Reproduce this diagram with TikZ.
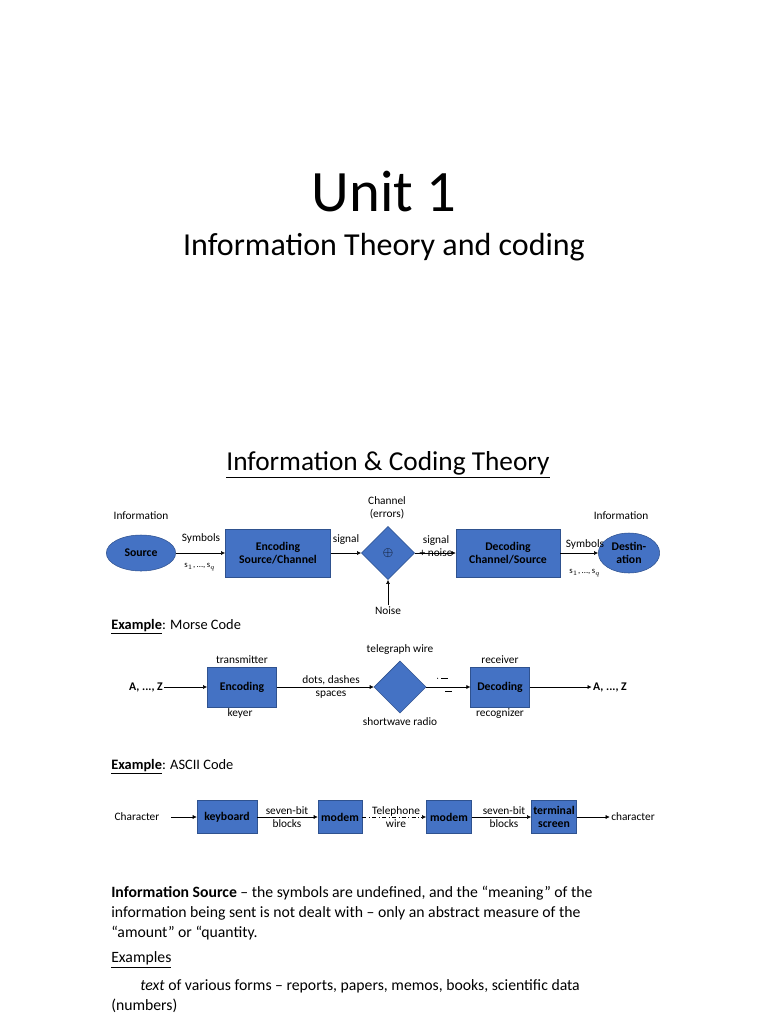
\documentclass[tikz,border=0pt]{standalone}
\usepackage{fontspec}
\setmainfont{Carlito}
\usepackage{xcolor}
\usetikzlibrary{arrows.meta,positioning,shapes.geometric}
\definecolor{boxblue}{HTML}{4472C4}
\definecolor{boxline}{HTML}{2F528F}

\begin{document}
\begin{tikzpicture}[
    x=0.75pt, y=-0.75pt,
    box/.style={draw=boxline, fill=boxblue, align=center, font=\fontsize{8.8}{10}\selectfont\bfseries, inner sep=1pt},
    blob/.style={ellipse, draw=boxline, fill=boxblue, align=center, font=\fontsize{8.8}{10}\selectfont\bfseries, inner sep=0pt},
    chan/.style={diamond, draw=boxline, fill=boxblue, minimum width=40pt, minimum height=40pt, inner sep=0pt},
    lbl/.style={font=\fontsize{8.5}{9.5}\selectfont, align=center, inner sep=1pt},
    arrow/.style={-{Latex[length=3pt,width=3pt]}, thin},
    body/.style={font=\fontsize{11.8}{14}\selectfont, anchor=west, inner sep=0pt}
  ]
  \useasboundingbox (0,0) rectangle (768,1024);

  % Titles
  \node[font=\fontsize{44}{50}\selectfont] (unit) at (384,192) {Unit 1};
  \node[font=\fontsize{24}{28}\selectfont] (subtitle) at (384,247) {Information Theory and coding};
  \node[font=\fontsize{20.5}{24}\selectfont] (heading) at (388,465) {\underline{Information \& Coding Theory}};

  % Information and coding chain
  \node[blob, minimum width=52pt, minimum height=27pt] (source) at (141,553) {Source};
  \node[box, minimum width=79pt, minimum height=36pt] (enc) at (278,553) {Encoding\\Source/Channel};
  \node[chan] (channel) at (388,553) {$\oplus$};
  \node[box, minimum width=78pt, minimum height=36pt] (dec) at (508,553) {Decoding\\Channel/Source};
  \node[blob, minimum width=46pt, minimum height=30pt] (dest) at (629,553) {Destin-\\ation};
  \node[lbl] (info1) at (141,516) {Information};
  \node[lbl] (info2) at (621,516) {Information};
  \node[lbl] (sym1) at (201,538) {Symbols};
  \node[lbl, font=\fontsize{6.5}{7}\selectfont] (s1) at (200,567) {s$_1$,\,...,\,s$_q$};
  \node[lbl] (sig1) at (346,540) {signal};
  \node[lbl] (errors) at (387,508) {Channel\\(errors)};
  \node[lbl] (sig2) at (436,546) {signal\\+ noise};
  \node[lbl] (sym2) at (585,544) {Symbols};
  \node[lbl, font=\fontsize{6.5}{7}\selectfont] (s2) at (585,573) {s$_1$,\,...,\,s$_q$};
  \node[lbl] (noise) at (388,611) {Noise};
  \draw[arrow] (source) -- (enc);
  \draw[arrow] (enc) -- (channel);
  \draw[arrow] (channel) -- (dec);
  \draw[arrow] (dec) -- (dest);
  \draw[arrow] (noise) -- (channel);

  % Morse code
  \node[body] (ex1) at (111,627) {\fontsize{10.8}{12}\selectfont\underline{\textbf{Example}}: Morse Code};
  \node[lbl, font=\fontsize{8.8}{10}\selectfont\bfseries] (az1) at (146,687) {A, ..., Z};
  \node[box, minimum width=52pt, minimum height=30pt] (encm) at (242,687) {Encoding};
  \node[chan, minimum width=39pt, minimum height=39pt] (wire) at (400,687) {};
  \node[box, minimum width=44pt, minimum height=30pt] (decm) at (500,687) {Decoding};
  \node[lbl, font=\fontsize{8.8}{10}\selectfont\bfseries] (az2) at (610,687) {A, ..., Z};
  \node[lbl] (trans) at (242,660) {transmitter};
  \node[lbl] (keyer) at (240,713) {keyer};
  \node[lbl] (tel) at (400,650) {telegraph wire};
  \node[lbl] (radio) at (400,722) {shortwave radio};
  \node[lbl] (recv) at (500,660) {receiver};
  \node[lbl] (recog) at (500,714) {recognizer};
  \node[lbl] (dots) at (331,687) {dots, dashes\\spaces};
  \node[lbl] (morse) at (442,684) {$\cdot$\,\rule[0.5ex]{5pt}{0.5pt}\\[-2pt]\hspace*{10pt}\rule{5pt}{0.5pt}};
  \draw[arrow] (az1) -- (encm);
  \draw[arrow] (encm) -- (wire);
  \draw[arrow] (wire) -- (decm);
  \draw[arrow] (decm) -- (az2);

  % ASCII code
  \node[body] (ex2) at (111,767) {\fontsize{10.8}{12}\selectfont\underline{\textbf{Example}}: ASCII Code};
  \node[lbl] (char1) at (137,817) {Character};
  \node[box, minimum width=45pt, minimum height=25pt] (kbd) at (227,817) {keyboard};
  \node[box, minimum width=33pt, minimum height=25pt] (modem1) at (340,817) {modem};
  \node[box, minimum width=34pt, minimum height=25pt] (modem2) at (449,817) {modem};
  \node[box, minimum width=34pt, minimum height=25pt] (term) at (554,817) {terminal\\screen};
  \node[lbl] (char2) at (633,817) {character};
  \node[lbl] (bits1) at (287,817) {seven-bit\\blocks};
  \node[lbl] (phone) at (396,817) {Telephone\\wire};
  \node[lbl] (bits2) at (504,817) {seven-bit\\blocks};
  \draw[arrow] (char1.east) ++(10,0) coordinate (c0) -- (kbd);
  \draw[arrow] (kbd) -- (modem1);
  \draw[arrow, dash dot] (modem1) -- (modem2);
  \draw[arrow] (modem2) -- (term);
  \draw[arrow] (term) -- (char2);

  % Text
  \node[body] (p1) at (111,893) {\textbf{Information Source} -- the symbols are undefined, and the “meaning” of the};
  \node[body] (p2) at (111,913) {information being sent is not dealt with -- only an abstract measure of the};
  \node[body] (p3) at (111,933) {“amount” or “quantity.};
  \node[body] (p4) at (111,960) {\underline{Examples}};
  \node[body] (p5) at (140,986) {\textit{text} of various forms -- reports, papers, memos, books, scientific data};
  \node[body] (p6) at (111,1006) {(numbers)};
\end{tikzpicture}
\end{document}
